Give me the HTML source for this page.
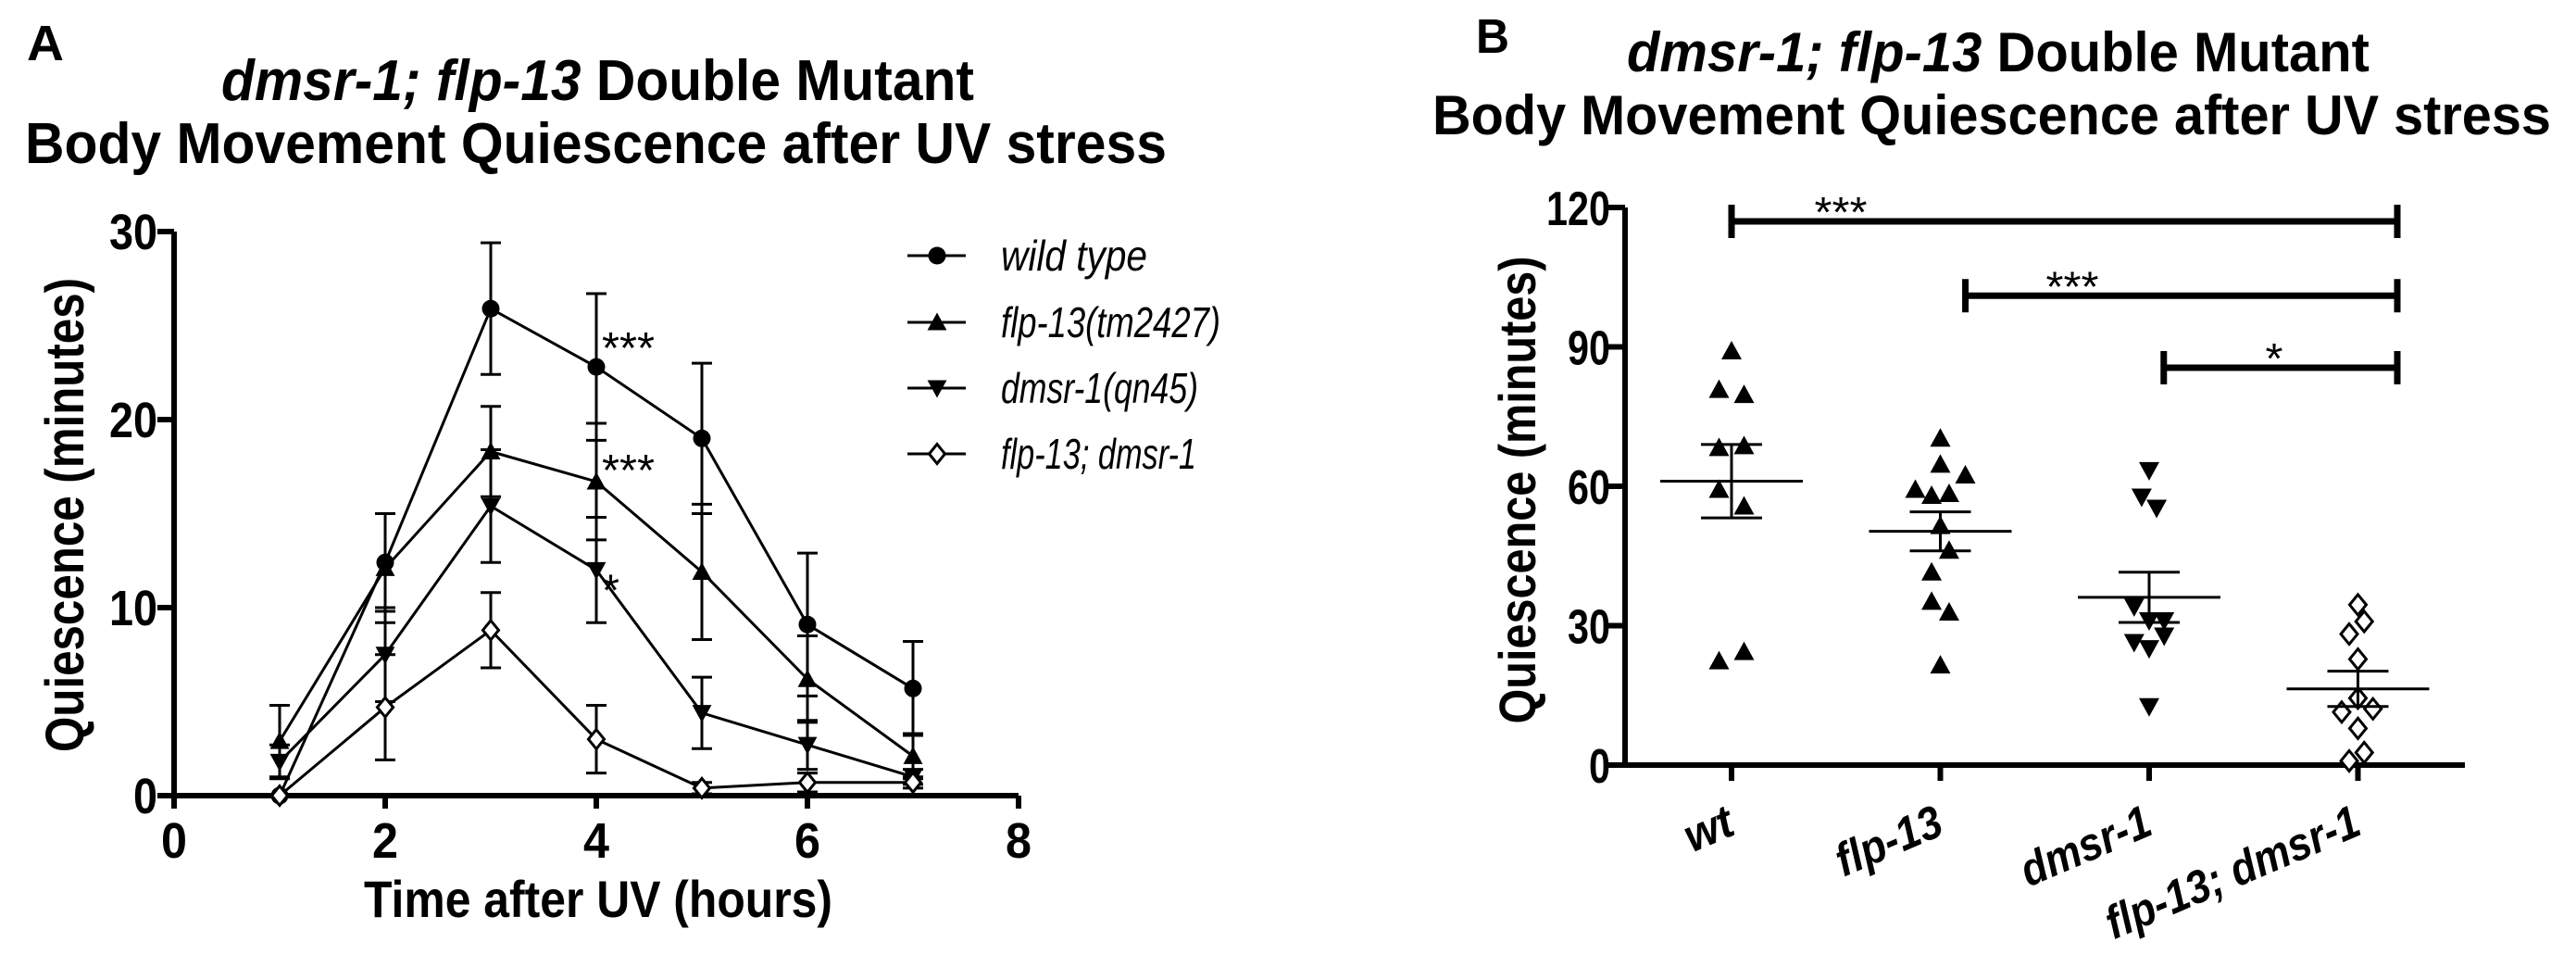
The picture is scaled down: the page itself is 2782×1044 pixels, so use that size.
<!DOCTYPE html>
<html><head><meta charset="utf-8"><style>
html,body{margin:0;padding:0;background:#fff;overflow:hidden;}
svg{display:block;font-family:"Liberation Sans",Arial,sans-serif;font-weight:bold;}
</style></head><body>
<svg id="fig" width="2782" height="1044" viewBox="0 0 2782 1044" xmlns="http://www.w3.org/2000/svg">
<rect width="2782" height="1044" fill="#fff"/>
<g id="panelA">
<text x="29" y="65" font-size="54" textLength="40" lengthAdjust="spacingAndGlyphs">A</text>
<text x="239" y="108" font-size="62" textLength="813" lengthAdjust="spacingAndGlyphs"><tspan font-style="italic">dmsr-1; flp-13</tspan> Double Mutant</text>
<text x="27" y="176" font-size="62" textLength="1233" lengthAdjust="spacingAndGlyphs">Body Movement Quiescence after UV stress</text>
<text x="646" y="990" font-size="56" text-anchor="middle" textLength="506" lengthAdjust="spacingAndGlyphs">Time after UV (hours)</text>
<text transform="translate(90,556) rotate(-90)" font-size="58" text-anchor="middle" textLength="512" lengthAdjust="spacingAndGlyphs">Quiescence (minutes)</text>
</g>
<g id="panelB">
<text x="1594" y="57" font-size="52" textLength="36" lengthAdjust="spacingAndGlyphs">B</text>
<text x="1757" y="77" font-size="60" textLength="802" lengthAdjust="spacingAndGlyphs"><tspan font-style="italic">dmsr-1; flp-13</tspan> Double Mutant</text>
<text x="1547" y="145" font-size="60" textLength="1208" lengthAdjust="spacingAndGlyphs">Body Movement Quiescence after UV stress</text>
<text transform="translate(1658,529) rotate(-90)" font-size="56" text-anchor="middle" textLength="505" lengthAdjust="spacingAndGlyphs">Quiescence (minutes)</text>
</g>
</svg>
<script>
// ---------- Panel A data ----------
const hoursA = [1,2,3,4,5,6,7];
const seriesNamesA = ["wild type","flp-13(tm2427)","dmsr-1(qn45)","flp-13; dmsr-1"];
const wtMean = [0,12.4,25.9,22.8,19.0,9.1,5.7];
const wtErr = [0,2.6,3.5,3.9,4.0,3.8,2.5];
const flpMean = [2.9,12.1,18.3,16.7,11.9,6.2,2.1];
const flpErr = [1.9,2.9,2.4,3.1,3.6,2.3,1.2];
const dmsrMean = [1.8,7.5,15.4,12.0,4.4,2.7,1.0];
const dmsrErr = [0.9,2.5,3.0,2.8,1.9,1.3,0.4];
const dblMean = [0,4.7,8.8,3.0,0.4,0.7,0.7];
const dblErr = [0,2.8,2.0,1.8,0.3,0.5,0.3];
const xTicksA = [0,2,4,6,8];
const yTicksA = [0,10,20,30];
const starHoursA = [4,4,4];
const starValuesA = [22.8,16.7,12.0];
const starTextA = ["***","***","*"];

// ---------- Panel B data ----------
const categoriesB = ["wt","flp-13","dmsr-1","flp-13; dmsr-1"];
const wtPts = [89.1,80.8,79.7,68.3,68.7,59.3,55.7,22.4,24.4];
const wtJit = [0,-1,1,-1,1,-1,1,-1,1];
const flpPts = [70.3,64.7,62.4,59.3,58.0,58.4,51.5,46.2,41.5,35.2,32.9,21.5];
const flpJit = [0,0,2,-2,-0.7,0.7,0,0.7,-0.7,-0.7,0.7,0];
const dmsrPts = [63.4,57.7,55.3,34.1,31.1,31.1,26.4,25.1,27.8,12.6];
const dmsrJit = [0,-0.6,0.6,-1.2,0,1.2,-1.2,0,1.2,0];
const dblPts = [34.5,30.9,28.2,22.8,14.4,11.4,12.1,7.9,2.7,0.9];
const dblJit = [0,0.5,-0.7,0,0,-1.3,1.2,0,0.5,-0.7];
const meansB = [61.1,50.3,36.1,16.4];
const semB = [7.9,4.2,5.4,3.8];
const yTicksB = [0,30,60,90,120];
const sigStart = [0,1.12,2.07];
const sigValue = [117,101,85.5];
const sigLabel = ["***","***","*"];

const NS="http://www.w3.org/2000/svg";
const svg=document.getElementById('fig');
function mk(tag,attrs,parent){const e=document.createElementNS(NS,tag);for(const k in attrs)e.setAttribute(k,attrs[k]);(parent||svg).appendChild(e);return e;}

const xA=h=>188+h*114;
const yA=v=>859-v*20.3;
const gA=document.getElementById('panelA');
let ax=mk('path',{d:`M${xA(0)} ${yA(30)} V${yA(0)} H${xA(8)}`,stroke:'#000','stroke-width':6,fill:'none'},gA);


xTicksA.forEach(t=>{
  const l=mk('line',{x1:xA(t),x2:xA(t),y1:yA(0),y2:yA(0)+14,stroke:'#000','stroke-width':6},gA);
  
  
  const tx=mk('text',{x:xA(t),y:926,'font-size':54,'text-anchor':'middle',textLength:28,lengthAdjust:'spacingAndGlyphs'},gA);
  tx.textContent=t;
  
  
});
yTicksA.forEach(t=>{
  const l=mk('line',{x1:xA(0)-18,x2:xA(0),y1:yA(t),y2:yA(t),stroke:'#000','stroke-width':6},gA);
  
  
  const tx=mk('text',{x:170,y:yA(t)+19,'font-size':54,'text-anchor':'end',textLength:String(t).length*26,lengthAdjust:'spacingAndGlyphs'},gA);
  tx.textContent=t;
  
  
});
function marker(type,cx,cy,s,parent){
  let e;
  if(type==='circle') e=mk('circle',{cx,cy,r:s*0.5,fill:'#000'},parent);
  else if(type==='up') e=mk('path',{d:`M${cx} ${cy-s*0.55} L${cx+s*0.55} ${cy+s*0.45} L${cx-s*0.55} ${cy+s*0.45}Z`,fill:'#000'},parent);
  else if(type==='down') e=mk('path',{d:`M${cx} ${cy+s*0.55} L${cx+s*0.55} ${cy-s*0.45} L${cx-s*0.55} ${cy-s*0.45}Z`,fill:'#000'},parent);
  else e=mk('path',{d:`M${cx} ${cy-s*0.55} L${cx+s*0.45} ${cy} L${cx} ${cy+s*0.55} L${cx-s*0.45} ${cy}Z`,fill:'#fff',stroke:'#000','stroke-width':3},parent);
  return e;
}
const seriesA=[[wtMean,wtErr,'circle'],[flpMean,flpErr,'up'],[dmsrMean,dmsrErr,'down'],[dblMean,dblErr,'diamond']];
seriesA.forEach((s,si)=>{
  const g=mk('g',{},gA);
  
  
  const [m,er,type]=s;
  hoursA.forEach((h,i)=>{
    if(er[i]>0){
      const p=mk('path',{d:`M${xA(h)} ${yA(m[i]+er[i])} V${yA(m[i]-er[i])} M${xA(h)-11} ${yA(m[i]+er[i])} h22 M${xA(h)-11} ${yA(m[i]-er[i])} h22`,stroke:'#000','stroke-width':3,fill:'none'},g);
      
      
    }
  });
  const ln=mk('polyline',{points:hoursA.map((h,i)=>xA(h)+','+yA(m[i])).join(' '),stroke:'#000','stroke-width':3,fill:'none'},g);
  
  
  hoursA.forEach((h,i)=>{
    const mm=marker(type,xA(h),yA(m[i]),19,g);
    
    
  });
});
const starOffA=[-4,4,38];
starTextA.forEach((s,i)=>{
  const t=mk('text',{x:xA(starHoursA[i])+6,y:yA(starValuesA[i])+starOffA[i],'font-size':48,'font-weight':'normal',textLength:s.length*19,lengthAdjust:'spacingAndGlyphs'},gA);
  t.textContent=s;
  
  
});
const legY=[276,348,419,490];
const legTypes=['circle','up','down','diamond'];
const legLen=[158,237,213,211];
seriesNamesA.forEach((n,i)=>{
  const g=mk('g',{},gA);
  
  
  mk('line',{x1:980,x2:1043,y1:legY[i],y2:legY[i],stroke:'#000','stroke-width':3},g);
  marker(legTypes[i],1012,legY[i],19,g);
  const t=mk('text',{x:1081,y:legY[i]+16,'font-size':46,'font-style':'italic','font-weight':'normal',textLength:legLen[i],lengthAdjust:'spacingAndGlyphs'},g);
  t.textContent=n;
});

const gB=document.getElementById('panelB');
const xB=i=>1870+i*225.5;
const yB=v=>826-v*5.017;
let axb=mk('path',{d:`M1755 ${yB(120)} V${yB(0)} H2662`,stroke:'#000','stroke-width':6,fill:'none'},gB);


yTicksB.forEach(t=>{
  const l=mk('line',{x1:1737,x2:1755,y1:yB(t),y2:yB(t),stroke:'#000','stroke-width':6},gB);
  
  
  const tx=mk('text',{x:1739,y:yB(t)+19,'font-size':52,'text-anchor':'end',textLength:String(t).length*23,lengthAdjust:'spacingAndGlyphs'},gB);
  tx.textContent=t;
  
  
});
const catLen=[53,120,148,293];
categoriesB.forEach((c,i)=>{
  const l=mk('line',{x1:xB(i),x2:xB(i),y1:yB(0),y2:yB(0)+17,stroke:'#000','stroke-width':6},gB);
  
  
  const t=mk('text',{transform:`translate(${xB(i)+6},900) rotate(-23)`,'font-size':50,'font-style':'italic','text-anchor':'end',textLength:catLen[i],lengthAdjust:'spacingAndGlyphs'},gB);
  t.textContent=c;
  
  
});
const ptsB=[[wtPts,wtJit,'up'],[flpPts,flpJit,'up'],[dmsrPts,dmsrJit,'down'],[dblPts,dblJit,'diamond']];
ptsB.forEach((s,i)=>{
  const g=mk('g',{},gB);
  
  
  s[0].forEach((v,j)=>{
    const m=marker(s[2],xB(i)+s[1][j]*13.5,yB(v),20,g);
    
    
  });
  const mb=mk('path',{d:`M${xB(i)-77} ${yB(meansB[i])} h154 M${xB(i)} ${yB(meansB[i]+semB[i])} V${yB(meansB[i]-semB[i])} M${xB(i)-33} ${yB(meansB[i]+semB[i])} h66 M${xB(i)-33} ${yB(meansB[i]-semB[i])} h66`,stroke:'#000','stroke-width':3,fill:'none'},g);
  
  
});
const starX=[1988,2238,2456];
sigValue.forEach((v,i)=>{
  const x1=xB(sigStart[i]), x2=2589, y=yB(v);
  const p=mk('path',{d:`M${x1} ${y} H${x2} M${x1} ${y-18} V${y+18} M${x2} ${y-18} V${y+18}`,stroke:'#000','stroke-width':7,fill:'none'},gB);
  
  
  const t=mk('text',{x:starX[i],y:y+6,'font-size':46,'text-anchor':'middle','font-weight':'normal',textLength:sigLabel[i].length*19,lengthAdjust:'spacingAndGlyphs'},gB);
  t.textContent=sigLabel[i];
  
  
});
</script>
</body></html>
